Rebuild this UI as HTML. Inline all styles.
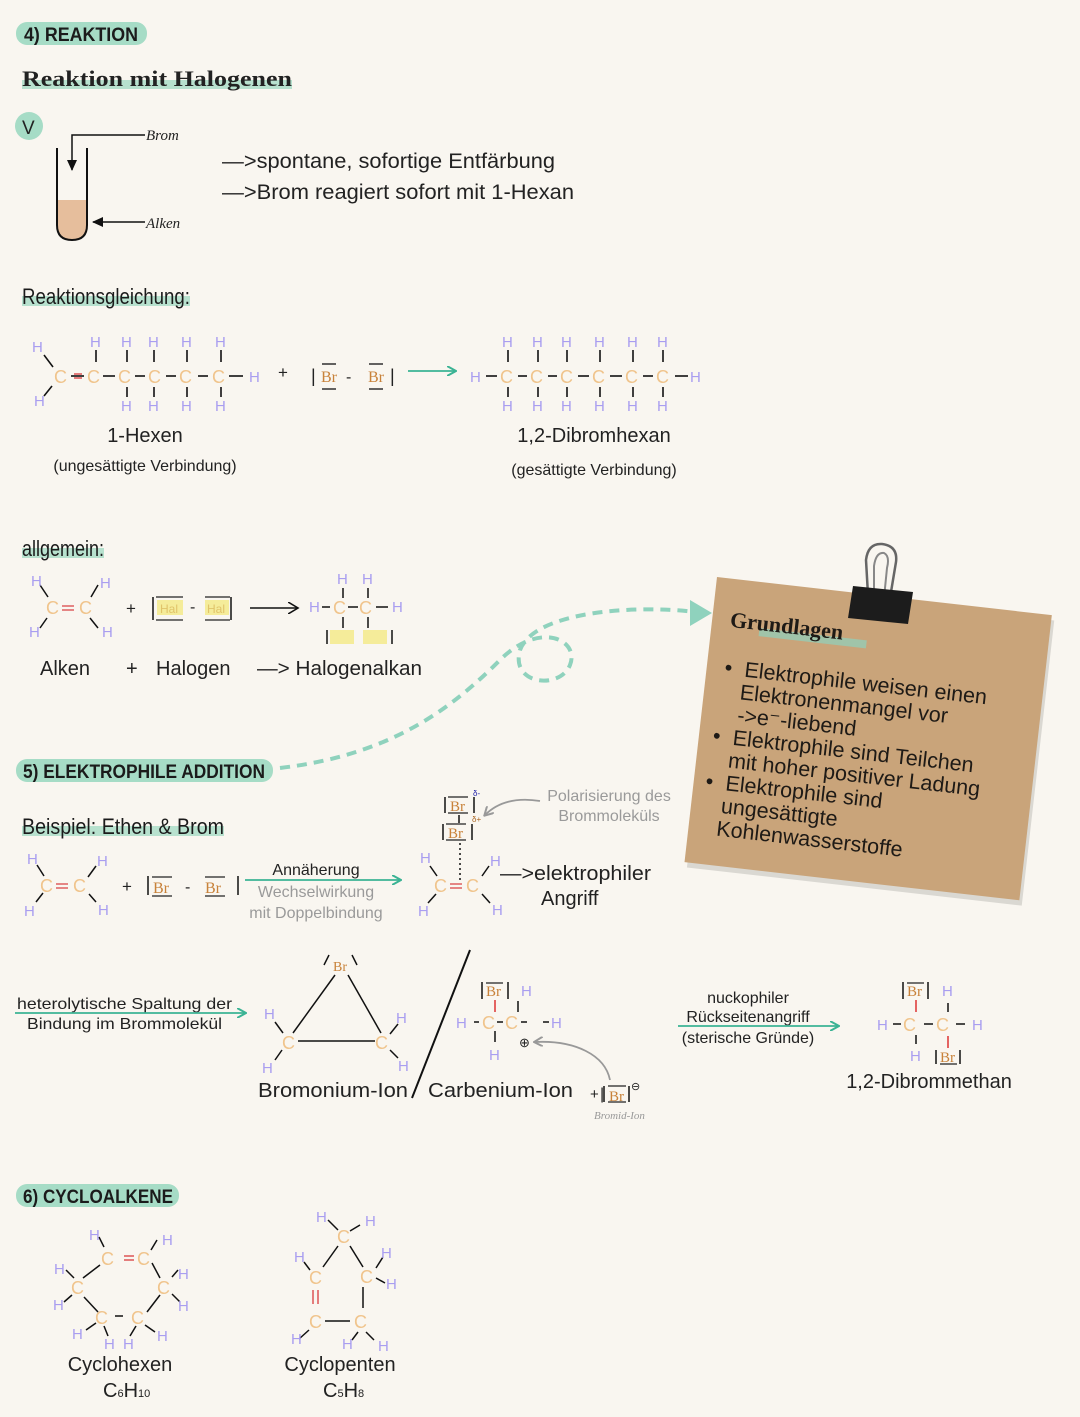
<!DOCTYPE html>
<html><head><meta charset="utf-8"><style>
html,body{margin:0;padding:0;background:#f9f6f0;}
svg{display:block}
text{font-family:"Liberation Sans",sans-serif;}
.h{fill:#a99ef0;font-size:15px;}
.c{fill:#f0c48c;font-size:18px;}
.br{fill:#c8823a;font-size:16px;font-family:"Liberation Serif",serif;}
.k{fill:#222;}
.g{fill:#9a9a9a;}
.hd{font-weight:bold;font-size:19px;fill:#1b1b1b;}
.hw{font-size:22px;fill:#1b1b1b;}
</style></head><body>
<svg width="1080" height="1417" viewBox="0 0 1080 1417" xmlns="http://www.w3.org/2000/svg">
<defs>
<marker id="ta" markerWidth="10" markerHeight="10" refX="8" refY="5" orient="auto" markerUnits="userSpaceOnUse"><path d="M0,0 L9,5 L0,10" fill="none" stroke="#3bb394" stroke-width="2"/></marker>
<marker id="ga" markerWidth="10" markerHeight="10" refX="8" refY="5" orient="auto" markerUnits="userSpaceOnUse"><path d="M0,0 L9,5 L0,10" fill="none" stroke="#999" stroke-width="2"/></marker>
<marker id="ka" markerWidth="12" markerHeight="12" refX="10" refY="6" orient="auto" markerUnits="userSpaceOnUse"><path d="M0,1 L11,6 L0,11 Z" fill="#111"/></marker>
<marker id="ko" markerWidth="12" markerHeight="12" refX="9" refY="6" orient="auto" markerUnits="userSpaceOnUse"><path d="M0,0 L10,6 L0,12" fill="none" stroke="#111" stroke-width="1.6"/></marker>
</defs>

<!-- headings -->
<rect x="16" y="22" width="131" height="23" rx="11" fill="#a6dcc6"/>
<text x="24" y="41" class="hd" textLength="114" lengthAdjust="spacingAndGlyphs">4) REAKTION</text>
<rect x="22" y="80" width="270" height="9" fill="#a6dcc6" opacity="0.8"/>
<text x="22" y="86" textLength="270" lengthAdjust="spacingAndGlyphs" style="font-family:'Liberation Serif',serif;font-weight:bold;font-size:22px;fill:#222">Reaktion mit Halogenen</text>

<circle cx="29" cy="126" r="14" fill="#a6dcc6"/>
<text x="22" y="134" style="font-size:19px;fill:#222">V</text>
<!-- test tube -->
<path d="M57,200 L57,225 Q57,240 72,240 Q87,240 87,225 L87,200 Z" fill="#e6be9c"/>
<path d="M57,148 L57,225 Q57,240 72,240 Q87,240 87,225 L87,148" fill="none" stroke="#111" stroke-width="2"/>
<path d="M145,135 L72,135 L72,170" fill="none" stroke="#111" stroke-width="1.5" marker-end="url(#ka)"/>
<path d="M145,222 L93,222" fill="none" stroke="#111" stroke-width="1.5" marker-end="url(#ka)"/>
<text x="146" y="140" style="font-family:'Liberation Serif',serif;font-style:italic;font-size:15px;fill:#222">Brom</text>
<text x="146" y="228" style="font-family:'Liberation Serif',serif;font-style:italic;font-size:15px;fill:#222">Alken</text>
<text x="222" y="168" textLength="333" lengthAdjust="spacingAndGlyphs" style="font-size:21px;fill:#222">—&gt;spontane, sofortige Entfärbung</text>
<text x="222" y="199" textLength="352" lengthAdjust="spacingAndGlyphs" style="font-size:21px;fill:#222">—&gt;Brom reagiert sofort mit 1-Hexan</text>

<rect x="22" y="296" width="168" height="10" fill="#a6dcc6" opacity="0.8"/>
<text x="22" y="304" class="hw" textLength="168" lengthAdjust="spacingAndGlyphs">Reaktionsgleichung:</text>

<!-- hexene -->
<g stroke="#111" stroke-width="1.6">
<line x1="44" y1="355" x2="53" y2="367"/><line x1="44" y1="396" x2="52" y2="386"/>
<line x1="71" y1="376" x2="84" y2="376"/><line x1="103" y1="376" x2="115" y2="376"/><line x1="135" y1="376" x2="145" y2="376"/><line x1="166" y1="376" x2="176" y2="376"/><line x1="198" y1="376" x2="208" y2="376"/><line x1="229" y1="376" x2="243" y2="376"/>
<line x1="96" y1="350" x2="96" y2="362"/><line x1="127" y1="350" x2="127" y2="362"/><line x1="154" y1="350" x2="154" y2="362"/><line x1="187" y1="350" x2="187" y2="362"/><line x1="221" y1="350" x2="221" y2="362"/>
<line x1="127" y1="387" x2="127" y2="397"/><line x1="154" y1="387" x2="154" y2="397"/><line x1="187" y1="387" x2="187" y2="397"/><line x1="221" y1="387" x2="221" y2="397"/>
</g>
<line x1="74" y1="374" x2="82" y2="374" stroke="#d55" stroke-width="1.5"/><line x1="74" y1="378" x2="82" y2="378" stroke="#d55" stroke-width="1.5"/>
<g class="c"><text x="54" y="383">C</text><text x="87" y="383">C</text><text x="118" y="383">C</text><text x="148" y="383">C</text><text x="179" y="383">C</text><text x="212" y="383">C</text></g>
<g class="h"><text x="32" y="352">H</text><text x="34" y="406">H</text><text x="90" y="347">H</text><text x="121" y="347">H</text><text x="148" y="347">H</text><text x="181" y="347">H</text><text x="215" y="347">H</text><text x="121" y="411">H</text><text x="148" y="411">H</text><text x="181" y="411">H</text><text x="215" y="411">H</text><text x="249" y="382">H</text></g>
<text x="278" y="378" style="font-size:17px;fill:#222">+</text>
<text x="311" y="382" style="font-size:18px;fill:#222">|</text><text x="321" y="382" class="br">Br</text><text x="346" y="382" style="font-size:16px;fill:#222">-</text><text x="368" y="382" class="br">Br</text><text x="390" y="382" style="font-size:18px;fill:#222">|</text>
<g stroke="#222" stroke-width="1.4"><line x1="322" y1="364" x2="336" y2="364"/><line x1="322" y1="389" x2="336" y2="389"/><line x1="369" y1="364" x2="383" y2="364"/><line x1="369" y1="389" x2="383" y2="389"/></g>
<line x1="408" y1="371" x2="455" y2="371" stroke="#3bb394" stroke-width="1.8" marker-end="url(#ta)"/>
<!-- dibromhexane -->
<g stroke="#111" stroke-width="1.6">
<line x1="486" y1="376" x2="497" y2="376"/><line x1="518" y1="376" x2="527" y2="376"/><line x1="548" y1="376" x2="557" y2="376"/><line x1="578" y1="376" x2="589" y2="376"/><line x1="610" y1="376" x2="622" y2="376"/><line x1="643" y1="376" x2="653" y2="376"/><line x1="675" y1="376" x2="688" y2="376"/>
<line x1="508" y1="350" x2="508" y2="362"/><line x1="538" y1="350" x2="538" y2="362"/><line x1="567" y1="350" x2="567" y2="362"/><line x1="600" y1="350" x2="600" y2="362"/><line x1="633" y1="350" x2="633" y2="362"/><line x1="663" y1="350" x2="663" y2="362"/>
<line x1="508" y1="387" x2="508" y2="397"/><line x1="538" y1="387" x2="538" y2="397"/><line x1="567" y1="387" x2="567" y2="397"/><line x1="600" y1="387" x2="600" y2="397"/><line x1="633" y1="387" x2="633" y2="397"/><line x1="663" y1="387" x2="663" y2="397"/>
</g>
<g class="c"><text x="500" y="383">C</text><text x="530" y="383">C</text><text x="560" y="383">C</text><text x="592" y="383">C</text><text x="625" y="383">C</text><text x="656" y="383">C</text></g>
<g class="h"><text x="470" y="382">H</text><text x="690" y="382">H</text>
<text x="502" y="347">H</text><text x="532" y="347">H</text><text x="561" y="347">H</text><text x="594" y="347">H</text><text x="627" y="347">H</text><text x="657" y="347">H</text>
<text x="502" y="411">H</text><text x="532" y="411">H</text><text x="561" y="411">H</text><text x="594" y="411">H</text><text x="627" y="411">H</text><text x="657" y="411">H</text></g>

<text x="145" y="442" text-anchor="middle" style="font-size:20px;fill:#222">1-Hexen</text>
<text x="145" y="471" text-anchor="middle" style="font-size:16px;fill:#222">(ungesättigte Verbindung)</text>
<text x="594" y="442" text-anchor="middle" style="font-size:20px;fill:#222">1,2-Dibromhexan</text>
<text x="594" y="475" text-anchor="middle" style="font-size:16px;fill:#222">(gesättigte Verbindung)</text>

<!-- allgemein -->
<rect x="22" y="548" width="82" height="10" fill="#a6dcc6" opacity="0.8"/>
<text x="22" y="556" class="hw" textLength="82" lengthAdjust="spacingAndGlyphs">allgemein:</text>
<g stroke="#111" stroke-width="1.5">
<line x1="40" y1="585" x2="48" y2="597"/><line x1="40" y1="628" x2="47" y2="618"/><line x1="98" y1="585" x2="91" y2="597"/><line x1="98" y1="628" x2="90" y2="618"/>
<line x1="153" y1="597" x2="153" y2="620"/><line x1="231" y1="597" x2="231" y2="620"/><line x1="250" y1="608" x2="297" y2="608" marker-end="url(#ko)"/>
<line x1="322" y1="607" x2="330" y2="607"/><line x1="348" y1="607" x2="358" y2="607"/><line x1="376" y1="607" x2="388" y2="607"/>
<line x1="343" y1="588" x2="343" y2="598"/><line x1="368" y1="588" x2="368" y2="598"/><line x1="343" y1="617" x2="343" y2="628"/><line x1="368" y1="617" x2="368" y2="628"/>
<line x1="327" y1="630" x2="327" y2="644"/><line x1="392" y1="630" x2="392" y2="644"/>
</g>
<rect x="157" y="600" width="26" height="15" fill="#f5ec9a"/><rect x="205" y="600" width="24" height="15" fill="#f5ec9a"/>
<rect x="330" y="630" width="24" height="14" fill="#f5ec9a"/><rect x="363" y="630" width="24" height="14" fill="#f5ec9a"/>
<text x="160" y="613" style="font-size:12px;fill:#e0c36a">Hal</text><text x="207" y="613" style="font-size:12px;fill:#e0c36a">Hal</text>
<g stroke="#222" stroke-width="1.3"><line x1="156" y1="597" x2="183" y2="597"/><line x1="156" y1="620" x2="183" y2="620"/><line x1="205" y1="597" x2="230" y2="597"/><line x1="205" y1="620" x2="230" y2="620"/></g>
<text x="190" y="612" style="font-size:16px;fill:#222">-</text>
<g class="c"><text x="46" y="614">C</text><text x="79" y="614">C</text><text x="333" y="614">C</text><text x="359" y="614">C</text></g>
<line x1="62" y1="606" x2="74" y2="606" stroke="#d55" stroke-width="1.4"/><line x1="62" y1="610" x2="74" y2="610" stroke="#d55" stroke-width="1.4"/>
<g class="h"><text x="31" y="586">H</text><text x="100" y="588">H</text><text x="29" y="637">H</text><text x="102" y="637">H</text><text x="309" y="612">H</text><text x="392" y="612">H</text><text x="337" y="584">H</text><text x="362" y="584">H</text></g>
<text x="126" y="614" style="font-size:17px;fill:#222">+</text>
<text x="40" y="675" style="font-size:20px;fill:#222">Alken</text>
<text x="126" y="675" style="font-size:20px;fill:#222">+</text>
<text x="156" y="675" style="font-size:20px;fill:#222">Halogen</text>
<text x="257" y="675" textLength="165" lengthAdjust="spacingAndGlyphs" style="font-size:20px;fill:#222">—&gt; Halogenalkan</text>

<!-- dashed curve -->
<path d="M280,768 C390,755 450,710 500,660 C540,620 580,640 570,665 C560,690 510,685 520,650 C535,610 640,605 695,612" fill="none" stroke="#8fd2bd" stroke-width="4" stroke-dasharray="10,7"/>
<path d="M690,600 L712,613 L690,626 Z" fill="#8fd2bd"/>

<!-- 5) -->
<rect x="16" y="759" width="257" height="23" rx="11" fill="#a6dcc6"/>
<text x="23" y="778" class="hd" textLength="242" lengthAdjust="spacingAndGlyphs">5) ELEKTROPHILE ADDITION</text>
<rect x="22" y="826" width="202" height="10" fill="#a6dcc6" opacity="0.8"/>
<text x="22" y="834" class="hw" textLength="202" lengthAdjust="spacingAndGlyphs">Beispiel: Ethen &amp; Brom</text>

<g stroke="#111" stroke-width="1.5">
<line x1="37" y1="865" x2="44" y2="876"/><line x1="36" y1="902" x2="43" y2="893"/><line x1="96" y1="866" x2="88" y2="877"/><line x1="96" y1="902" x2="89" y2="894"/>
<line x1="148" y1="876" x2="148" y2="895"/><line x1="238" y1="876" x2="238" y2="895"/>
<line x1="445" y1="797" x2="445" y2="813"/><line x1="474" y1="797" x2="474" y2="813"/><line x1="443" y1="824" x2="443" y2="840"/><line x1="472" y1="824" x2="472" y2="840"/>
<line x1="459" y1="815" x2="459" y2="823"/>
<line x1="430" y1="866" x2="437" y2="876"/><line x1="428" y1="903" x2="436" y2="894"/><line x1="489" y1="866" x2="482" y2="876"/><line x1="490" y1="903" x2="482" y2="894"/>
</g>
<line x1="460" y1="843" x2="460" y2="880" stroke="#111" stroke-width="1.5" stroke-dasharray="2,3"/>
<g stroke="#222" stroke-width="1.3"><line x1="152" y1="877" x2="172" y2="877"/><line x1="152" y1="896" x2="172" y2="896"/><line x1="205" y1="877" x2="225" y2="877"/><line x1="205" y1="896" x2="225" y2="896"/>
<line x1="448" y1="797" x2="468" y2="797"/><line x1="448" y1="813" x2="468" y2="813"/><line x1="446" y1="824" x2="466" y2="824"/><line x1="446" y1="840" x2="466" y2="840"/></g>
<g class="c"><text x="40" y="892">C</text><text x="73" y="892">C</text><text x="434" y="892">C</text><text x="466" y="892">C</text></g>
<line x1="56" y1="884" x2="68" y2="884" stroke="#d55" stroke-width="1.4"/><line x1="56" y1="888" x2="68" y2="888" stroke="#d55" stroke-width="1.4"/>
<line x1="450" y1="884" x2="462" y2="884" stroke="#d55" stroke-width="1.4"/><line x1="450" y1="888" x2="462" y2="888" stroke="#d55" stroke-width="1.4"/>
<g class="h"><text x="27" y="864">H</text><text x="97" y="866">H</text><text x="24" y="916">H</text><text x="98" y="915">H</text><text x="420" y="863">H</text><text x="490" y="866">H</text><text x="418" y="916">H</text><text x="492" y="915">H</text></g>
<text x="122" y="892" style="font-size:17px;fill:#222">+</text>
<text x="153" y="893" class="br">Br</text><text x="185" y="892" style="font-size:16px;fill:#222">-</text><text x="205" y="893" class="br">Br</text>
<text x="450" y="811" class="br" style="font-size:15px">Br</text><text x="448" y="838" class="br" style="font-size:15px">Br</text>
<text x="473" y="796" style="font-size:8px;fill:#22a">δ-</text><text x="472" y="822" style="font-size:8px;fill:#a62">δ+</text>
<text x="316" y="875" text-anchor="middle" style="font-size:16px;fill:#222">Annäherung</text>
<line x1="245" y1="880" x2="400" y2="880" stroke="#3bb394" stroke-width="1.8" marker-end="url(#ta)"/>
<text x="316" y="897" text-anchor="middle" class="g" style="font-size:16px">Wechselwirkung</text>
<text x="316" y="918" text-anchor="middle" class="g" style="font-size:16px">mit Doppelbindung</text>
<text x="609" y="801" text-anchor="middle" class="g" style="font-size:16px">Polarisierung des</text>
<text x="609" y="821" text-anchor="middle" class="g" style="font-size:16px">Brommoleküls</text>
<path d="M540,801 C515,797 497,803 485,815" fill="none" stroke="#999" stroke-width="1.8" marker-end="url(#ga)"/>
<text x="500" y="880" textLength="151" lengthAdjust="spacingAndGlyphs" style="font-size:20px;fill:#222">—&gt;elektrophiler</text>
<text x="541" y="905" style="font-size:20px;fill:#222">Angriff</text>

<!-- row 3 -->
<text x="17" y="1009" textLength="215" lengthAdjust="spacingAndGlyphs" style="font-size:16px;fill:#222">heterolytische Spaltung der</text>
<line x1="15" y1="1013" x2="245" y2="1013" stroke="#3bb394" stroke-width="1.8" marker-end="url(#ta)"/>
<text x="27" y="1029" textLength="195" lengthAdjust="spacingAndGlyphs" style="font-size:16px;fill:#222">Bindung im Brommolekül</text>
<g stroke="#111" stroke-width="1.5">
<line x1="335" y1="975" x2="293" y2="1033"/><line x1="348" y1="975" x2="381" y2="1033"/><line x1="298" y1="1041" x2="375" y2="1041"/>
<line x1="324" y1="965" x2="329" y2="955"/><line x1="352" y1="955" x2="357" y2="965"/>
<line x1="275" y1="1022" x2="283" y2="1033"/><line x1="275" y1="1060" x2="282" y2="1050"/><line x1="398" y1="1024" x2="390" y2="1034"/><line x1="398" y1="1058" x2="390" y2="1050"/>
<line x1="470" y1="950" x2="412" y2="1098" stroke-width="2"/>
<line x1="474" y1="1022" x2="479" y2="1022"/><line x1="497" y1="1022" x2="503" y2="1022"/><line x1="521" y1="1022" x2="527" y2="1022"/><line x1="543" y1="1022" x2="549" y2="1022"/>
<line x1="495" y1="1031" x2="495" y2="1042"/><line x1="518" y1="1001" x2="518" y2="1012"/>
<line x1="482" y1="982" x2="482" y2="999"/><line x1="508" y1="982" x2="508" y2="999"/>
<line x1="893" y1="1024" x2="901" y2="1024"/><line x1="924" y1="1024" x2="933" y2="1024"/><line x1="956" y1="1024" x2="965" y2="1024"/>
<line x1="916" y1="1035" x2="916" y2="1044"/><line x1="948" y1="1003" x2="948" y2="1012"/>
<line x1="903" y1="982" x2="903" y2="999"/><line x1="928" y1="982" x2="928" y2="999"/>
<line x1="936" y1="1050" x2="936" y2="1064"/><line x1="960" y1="1050" x2="960" y2="1064"/>
<line x1="604" y1="1086" x2="604" y2="1102"/><line x1="629" y1="1086" x2="629" y2="1102"/>
</g>
<line x1="495" y1="1000" x2="495" y2="1012" stroke="#d33" stroke-width="1.5"/>
<line x1="916" y1="1000" x2="916" y2="1012" stroke="#d33" stroke-width="1.5"/>
<line x1="948" y1="1036" x2="948" y2="1048" stroke="#d33" stroke-width="1.5"/>
<g class="c"><text x="282" y="1049">C</text><text x="375" y="1049">C</text><text x="482" y="1029">C</text><text x="505" y="1029">C</text><text x="903" y="1031">C</text><text x="936" y="1031">C</text></g>
<text x="333" y="971" class="br" style="font-size:14px">Br</text>
<text x="486" y="996" class="br" style="font-size:15px">Br</text>
<text x="907" y="996" class="br" style="font-size:15px">Br</text>
<text x="940" y="1062" class="br" style="font-size:15px">Br</text>
<text x="609" y="1101" class="br" style="font-size:15px">Br</text>
<g stroke="#222" stroke-width="1.3"><line x1="486" y1="983" x2="503" y2="983"/><line x1="907" y1="983" x2="924" y2="983"/><line x1="940" y1="1064" x2="957" y2="1064"/><line x1="608" y1="1086" x2="626" y2="1086"/><line x1="608" y1="1102" x2="626" y2="1102"/></g>
<g class="h"><text x="264" y="1019">H</text><text x="262" y="1073">H</text><text x="396" y="1023">H</text><text x="398" y="1071">H</text>
<text x="456" y="1028">H</text><text x="551" y="1028">H</text><text x="521" y="996">H</text><text x="489" y="1060">H</text>
<text x="877" y="1030">H</text><text x="972" y="1030">H</text><text x="942" y="996">H</text><text x="910" y="1061">H</text></g>
<text x="519" y="1047" style="font-size:13px;fill:#222">⊕</text>
<path d="M610,1080 C605,1055 575,1040 535,1042" fill="none" stroke="#999" stroke-width="1.8" marker-end="url(#ga)"/>
<text x="590" y="1099" style="font-size:15px;fill:#222">+</text><text x="600" y="1099" style="font-size:16px;fill:#222">|</text>
<text x="631" y="1090" style="font-size:11px;fill:#222">⊖</text>
<text x="594" y="1119" style="font-family:'Liberation Serif',serif;font-style:italic;font-size:11px;fill:#999">Bromid-Ion</text>
<text x="258" y="1097" textLength="150" lengthAdjust="spacingAndGlyphs" style="font-size:20px;fill:#222">Bromonium-Ion</text>
<text x="428" y="1097" textLength="145" lengthAdjust="spacingAndGlyphs" style="font-size:20px;fill:#222">Carbenium-Ion</text>
<text x="748" y="1003" text-anchor="middle" style="font-size:16px;fill:#222">nuckophiler</text>
<text x="748" y="1022" text-anchor="middle" style="font-size:16px;fill:#222">Rückseitenangriff</text>
<line x1="678" y1="1026" x2="838" y2="1026" stroke="#3bb394" stroke-width="1.8" marker-end="url(#ta)"/>
<text x="748" y="1043" text-anchor="middle" style="font-size:16px;fill:#222">(sterische Gründe)</text>
<text x="929" y="1088" text-anchor="middle" style="font-size:20px;fill:#222">1,2-Dibrommethan</text>

<!-- 6) -->
<rect x="16" y="1184" width="163" height="23" rx="11" fill="#a6dcc6"/>
<text x="23" y="1203" class="hd" textLength="150" lengthAdjust="spacingAndGlyphs">6) CYCLOALKENE</text>
<g stroke="#111" stroke-width="1.5">
<line x1="83" y1="1278" x2="100" y2="1265"/><line x1="152" y1="1263" x2="160" y2="1278"/><line x1="84" y1="1297" x2="98" y2="1312"/><line x1="160" y1="1295" x2="147" y2="1312"/><line x1="115" y1="1316" x2="123" y2="1316"/>
<line x1="99" y1="1237" x2="104" y2="1247"/><line x1="157" y1="1240" x2="151" y2="1250"/><line x1="66" y1="1270" x2="74" y2="1278"/><line x1="64" y1="1302" x2="72" y2="1295"/><line x1="172" y1="1277" x2="178" y2="1270"/><line x1="172" y1="1294" x2="180" y2="1302"/>
<line x1="86" y1="1330" x2="96" y2="1323"/><line x1="104" y1="1326" x2="108" y2="1336"/><line x1="136" y1="1326" x2="130" y2="1336"/><line x1="145" y1="1325" x2="155" y2="1332"/>
<line x1="338" y1="1246" x2="323" y2="1267"/><line x1="350" y1="1246" x2="363" y2="1267"/><line x1="363" y1="1287" x2="363" y2="1308"/><line x1="325" y1="1321" x2="350" y2="1321"/>
<line x1="328" y1="1220" x2="338" y2="1230"/><line x1="360" y1="1225" x2="350" y2="1231"/><line x1="304" y1="1262" x2="310" y2="1270"/><line x1="383" y1="1257" x2="376" y2="1268"/><line x1="376" y1="1278" x2="385" y2="1283"/>
<line x1="299" y1="1339" x2="309" y2="1330"/><line x1="352" y1="1340" x2="358" y2="1332"/><line x1="374" y1="1340" x2="366" y2="1332"/>
</g>
<line x1="124" y1="1256" x2="134" y2="1256" stroke="#d55" stroke-width="1.5"/><line x1="124" y1="1260" x2="134" y2="1260" stroke="#d55" stroke-width="1.5"/>
<line x1="313" y1="1290" x2="313" y2="1304" stroke="#d55" stroke-width="1.5"/><line x1="318" y1="1290" x2="318" y2="1304" stroke="#d55" stroke-width="1.5"/>
<g class="c"><text x="101" y="1265">C</text><text x="137" y="1265">C</text><text x="157" y="1294">C</text><text x="131" y="1324">C</text><text x="95" y="1324">C</text><text x="71" y="1294">C</text>
<text x="337" y="1243">C</text><text x="309" y="1284">C</text><text x="360" y="1283">C</text><text x="309" y="1328">C</text><text x="354" y="1328">C</text></g>
<g class="h"><text x="89" y="1240">H</text><text x="162" y="1245">H</text><text x="54" y="1274">H</text><text x="53" y="1310">H</text><text x="178" y="1279">H</text><text x="178" y="1311">H</text><text x="72" y="1339">H</text><text x="104" y="1349">H</text><text x="123" y="1349">H</text><text x="157" y="1341">H</text>
<text x="316" y="1222">H</text><text x="365" y="1226">H</text><text x="294" y="1262">H</text><text x="381" y="1258">H</text><text x="386" y="1289">H</text><text x="291" y="1344">H</text><text x="342" y="1349">H</text><text x="378" y="1351">H</text></g>
<text x="120" y="1371" text-anchor="middle" style="font-size:20px;fill:#222">Cyclohexen</text>
<text x="103" y="1397" style="font-size:20px;fill:#222">C<tspan style="font-size:11px">6</tspan>H<tspan style="font-size:11px">10</tspan></text>
<text x="340" y="1371" text-anchor="middle" style="font-size:20px;fill:#222">Cyclopenten</text>
<text x="323" y="1397" style="font-size:20px;fill:#222">C<tspan style="font-size:11px">5</tspan>H<tspan style="font-size:11px">8</tspan></text>

<!-- note card -->
<g transform="translate(717,577) rotate(6.5)">
<rect x="3" y="5" width="337" height="287" fill="#000" opacity="0.12"/>
<rect x="0" y="0" width="337" height="287" fill="#c9a47a"/>
<rect x="48" y="46" width="108" height="8" fill="#8fd2bd" opacity="0.7"/>
<text x="18" y="48" style="font-family:'Liberation Serif',serif;font-weight:bold;font-size:22px;fill:#1e1a16">Grundlagen</text>
<g style="font-size:21.5px;fill:#1e1a16">
<text x="18" y="96">•</text><text x="38" y="96">Elektrophile weisen einen</text>
<text x="36" y="119">Elektronenmangel vor</text>
<text x="36" y="142">-&gt;e⁻-liebend</text>
<text x="14" y="165">•</text><text x="34" y="165">Elektrophile sind Teilchen</text>
<text x="32" y="188">mit hoher positiver Ladung</text>
<text x="12" y="211">•</text><text x="32" y="211">Elektrophile sind</text>
<text x="30" y="234">ungesättigte</text>
<text x="28" y="257">Kohlenwasserstoffe</text>
</g>
</g>
<!-- binder clip -->
<path d="M868,595 L866,560 Q868,543 882,544 Q898,546 896,562 L890,598" fill="none" stroke="#666" stroke-width="2.5"/>
<path d="M874,596 L874,566 Q876,552 884,553 Q890,556 887,568 L884,598" fill="none" stroke="#888" stroke-width="2"/>
<path d="M853,586 L913,592 L908,624 L848,618 Z" fill="#1c1c1c"/>
</svg>
</body></html>
